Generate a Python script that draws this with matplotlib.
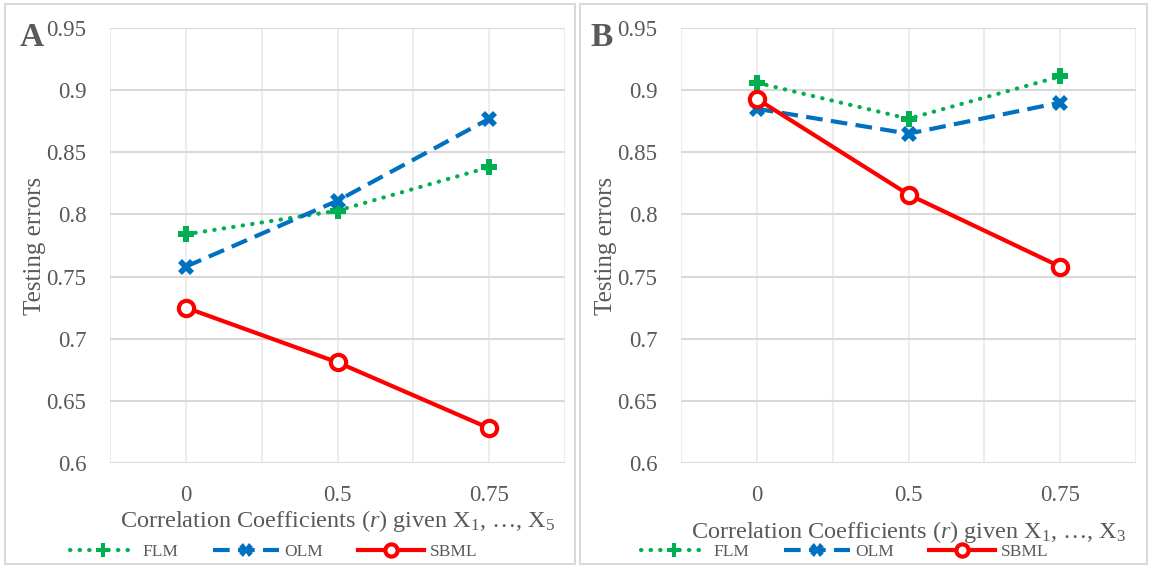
import matplotlib
matplotlib.use("Agg")
import matplotlib.pyplot as plt
from matplotlib.patches import Rectangle

# data
categories = ["0", "0.5", "0.75"]

flm_a = [0.784, 0.803, 0.838]
olm_a = [0.758, 0.811, 0.877]
sbml_a = [0.725, 0.681, 0.628]

flm_b = [0.906, 0.877, 0.911]
olm_b = [0.885, 0.865, 0.890]
sbml_b = [0.893, 0.816, 0.758]

y_ticks = [0.6, 0.65, 0.7, 0.75, 0.8, 0.85, 0.9, 0.95]

plt.rcParams['font.family'] = ['Liberation Serif', 'DejaVu Serif']
plt.rcParams['mathtext.fontset'] = 'custom'
plt.rcParams['mathtext.rm'] = 'Liberation Serif'
plt.rcParams['mathtext.it'] = 'Liberation Serif:italic'

TXT = '#595959'
GREEN = '#00B050'
BLUE = '#0070C0'
RED = '#FF0000'


def draw_panel(ax, flm, olm, sbml, nvar, xpad):
    x = range(len(categories))
    ax.plot(x, flm, color=GREEN, lw=3, linestyle=(0, (0.1, 2.2)),
            dash_capstyle='round', marker='P', ms=12, mew=0, label='FLM', zorder=3)
    ax.plot(x, olm, color=BLUE, lw=3, linestyle=(0, (4, 2)),
            marker='X', ms=12, mew=0, label='OLM', zorder=4)
    ax.plot(x, sbml, color=RED, lw=3, marker='o', ms=11, mfc='white',
            mec=RED, mew=3, label='SBML', zorder=5)

    ax.set_xlim(-0.5, 2.5)
    ax.set_ylim(0.6, 0.95)
    ax.set_yticks(y_ticks)
    ax.set_yticklabels([('%g' % v) for v in y_ticks])
    ax.set_xticks(list(x))
    ax.set_xticklabels(categories)
    ax.set_xticks([-0.5, 0.5, 1.5, 2.5], minor=True)
    ax.tick_params(axis='both', which='both', length=0, labelsize=16.5, colors=TXT)
    ax.tick_params(axis='y', pad=17)
    ax.tick_params(axis='x', pad=16)
    ax.grid(axis='y', color='#D9D9D9', lw=1.5, zorder=0)
    ax.grid(axis='x', which='both', color='#EDEDED', lw=1.5, zorder=0)
    for s in ax.spines.values():
        s.set_visible(False)
    ax.set_axisbelow(True)

    ax.set_ylabel('Testing errors', fontsize=18, color=TXT)
    ax.yaxis.set_label_coords(-0.14, 0.5)
    ax.set_xlabel(r'Correlation Coefficients ($\mathit{r}$) given X$_1$, …, X$_%d$' % nvar,
                  fontsize=17.5, color=TXT, labelpad=xpad)
    leg = ax.legend(loc='upper center', bbox_to_anchor=(0.36, -0.15), ncol=3,
                    frameon=False, fontsize=12.5, handlelength=3.8,
                    columnspacing=2.0, handletextpad=0.35, markerscale=0.8)
    for t in leg.get_texts():
        t.set_color(TXT)


fig = plt.figure(figsize=(11.51, 5.69), dpi=100)

ax1 = fig.add_axes([110 / 1151, 1 - 463 / 569, 455 / 1151, 435 / 569])
ax2 = fig.add_axes([681 / 1151, 1 - 463 / 569, 455 / 1151, 435 / 569])

draw_panel(ax1, flm_a, olm_a, sbml_a, 5, 1)
draw_panel(ax2, flm_b, olm_b, sbml_b, 3, 9)

# panel letters
fig.text(20 / 1151, 1 - 37 / 569, 'A', fontsize=24, fontweight='bold',
         color=TXT, va='center', ha='left')
fig.text(590 / 1151, 1 - 37 / 569, 'B', fontsize=24, fontweight='bold',
         color=TXT, va='center', ha='left')

# panel borders
for x0, w in [(5, 570), (580, 567)]:
    fig.patches.append(Rectangle((x0 / 1151, 5 / 569), w / 1151, 560 / 569,
                                 transform=fig.transFigure, fill=False,
                                 edgecolor='#D9D9D9', lw=1.5))

fig.savefig('out.png', dpi=100)
